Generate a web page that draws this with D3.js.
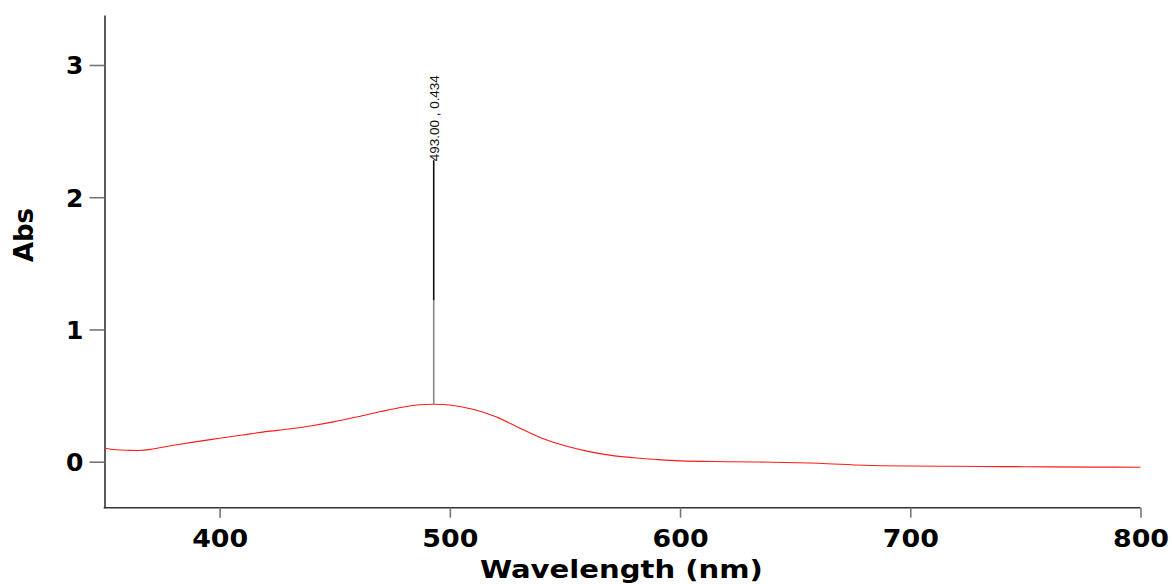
<!DOCTYPE html>
<html><head><meta charset="utf-8">
<script src="https://cdn.jsdelivr.net/npm/d3@7"></script>
<style>html,body{margin:0;padding:0;background:#fff;}svg{display:block;}</style>
</head><body>
<svg id="c" width="1172" height="584"></svg>
<script>
const wavelengths = [350,355,360,365,370,380,390,400,410,420,430,440,450,460,470,480,487,493,500,510,520,530,540,550,560,570,580,590,600,620,640,660,680,700,720,740,760,780,800];
const absorbance = [0.101,0.090,0.086,0.085,0.093,0.124,0.152,0.177,0.202,0.227,0.247,0.272,0.303,0.340,0.379,0.414,0.430,0.434,0.429,0.396,0.340,0.257,0.177,0.120,0.078,0.048,0.030,0.016,0.006,0.000,-0.004,-0.012,-0.027,-0.033,-0.035,-0.037,-0.039,-0.041,-0.042];
const xTicks = [400,500,600,700,800];
const yTicks = [0,1,2,3];
const peakWl = 493.00, peakAbs = 0.434;
const markerTop = 2.28, markerMid = 1.22;
const xTitle = "Wavelength (nm)", yTitle = "Abs";

const svg = d3.select("#c");
const x = d3.scaleLinear().domain([350,800]).range([104.5,1140.5]);
const y = d3.scaleLinear().domain([-0.348,3.378]).range([507.7,15]);

// axes
const xa = svg.append("g").attr("transform","translate(0,507.7)")
  .call(d3.axisBottom(x).tickValues(xTicks).tickFormat(d3.format("d")).tickSize(10).tickSizeOuter(0).tickPadding(12));
const ya = svg.append("g").attr("transform","translate(104.5,0)")
  .call(d3.axisLeft(y).tickValues(yTicks).tickFormat(d3.format("d")).tickSize(15).tickSizeOuter(0).tickPadding(6));
[xa,ya].forEach(a=>{
  a.select(".domain").attr("stroke","#333").attr("stroke-width",1.6);
  a.selectAll(".tick line").attr("stroke","#777").attr("stroke-width",1.6);
  a.selectAll(".tick text").attr("fill","#000")
    .style("font-family","'DejaVu Sans', Verdana, sans-serif")
    .style("font-weight","bold").style("font-size","25px");
});
xa.selectAll(".tick text").attr("dy",null).attr("y",39.6).attr("textLength",56).attr("lengthAdjust","spacingAndGlyphs");
ya.selectAll(".tick text").attr("dy","0.36em");
xa.select(".domain").attr("d",`M${x(350)-0.8},0H${x(800)}`);

// curve
const line = d3.line().x((d,i)=>x(wavelengths[i])).y(d=>y(d)).curve(d3.curveCatmullRom.alpha(0.5));
svg.append("path").datum(absorbance).attr("d",line)
  .attr("fill","none").attr("stroke","#ff1a1a").attr("stroke-width",1.1);

// marker
const mx = x(peakWl);
svg.append("line").attr("x1",mx).attr("x2",mx).attr("y1",y(peakAbs)).attr("y2",y(markerMid))
  .attr("stroke","#888").attr("stroke-width",1.6);
svg.append("line").attr("x1",mx).attr("x2",mx).attr("y1",y(markerMid)).attr("y2",y(markerTop))
  .attr("stroke","#111").attr("stroke-width",1.6);
svg.append("text").attr("transform",`translate(${mx+5},${y(markerTop)+1}) rotate(-90)`)
  .attr("text-anchor","start")
  .style("font-family","'Liberation Sans', Arial, sans-serif").style("font-size","13.5px").attr("fill","#111")
  .attr("textLength",86).attr("lengthAdjust","spacingAndGlyphs")
  .text(`${peakWl.toFixed(2)} , ${peakAbs.toFixed(3)}`);

// titles
svg.append("text").attr("x",621.4).attr("y",578).attr("text-anchor","middle")
  .style("font-family","'DejaVu Sans', Verdana, sans-serif").style("font-weight","bold").style("font-size","25px")
  .attr("textLength",283).attr("lengthAdjust","spacingAndGlyphs").text(xTitle);
svg.append("text").attr("transform","translate(33,235) rotate(-90)").attr("text-anchor","middle")
  .style("font-family","'DejaVu Sans', Verdana, sans-serif").style("font-weight","bold").style("font-size","26px")
  .text(yTitle);
</script>
</body></html>
